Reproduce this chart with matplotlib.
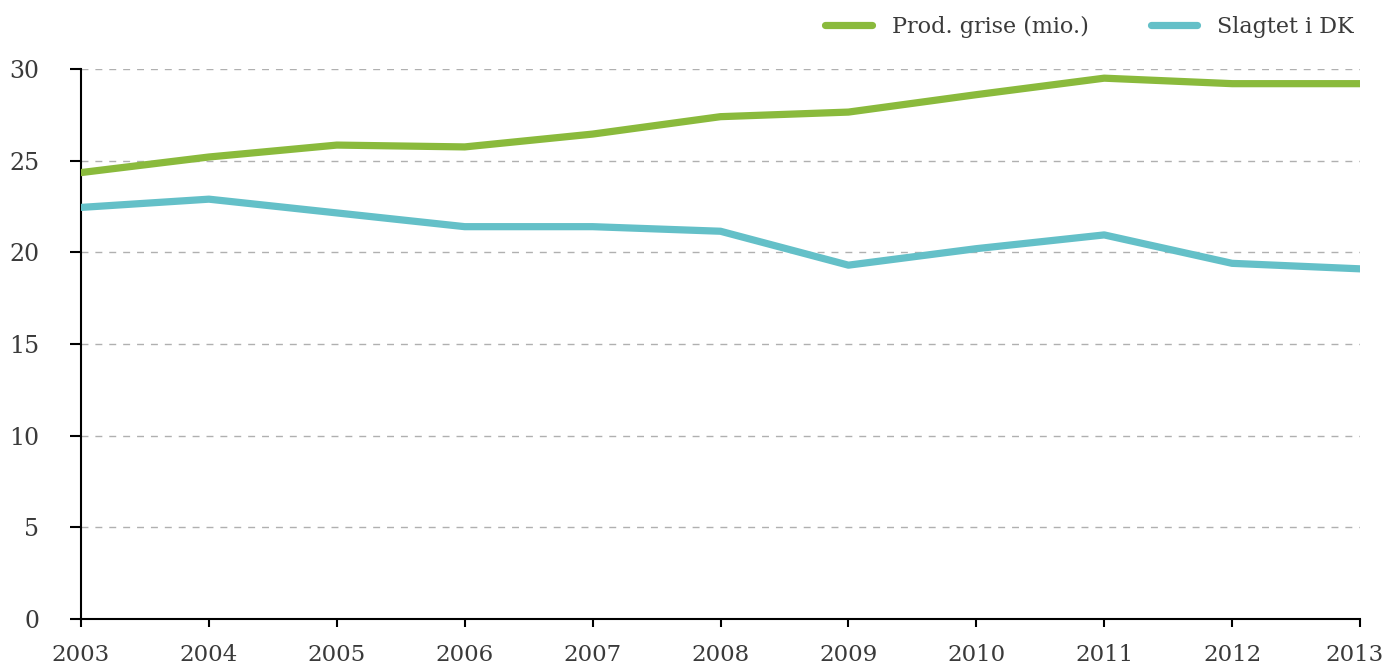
import matplotlib
matplotlib.use('Agg')
import matplotlib.pyplot as plt
import matplotlib.transforms as mtransforms

matplotlib.rcParams['font.family'] = ['DejaVu Serif']

years = [2003, 2004, 2005, 2006, 2007, 2008, 2009, 2010, 2011, 2012, 2013]
prod_grise = [24.35, 25.2, 25.85, 25.75, 26.45, 27.4, 27.65, 28.6, 29.5, 29.2, 29.2]
slagtet_dk = [22.45, 22.9, 22.15, 21.4, 21.4, 21.15, 19.3, 20.2, 20.95, 19.4, 19.1]

green = '#8aba3c'
blue = '#64c0c8'
text_col = '#3a3a3a'

fig = plt.figure(figsize=(13.87, 6.65), dpi=100)
ax = fig.add_axes([81 / 1387, 46 / 665, (1360 - 81) / 1387, (619 - 69) / 665])

ax.plot(years, prod_grise, color=green, lw=5.2, solid_capstyle='round', label='Prod. grise (mio.)', zorder=3)
ax.plot(years, slagtet_dk, color=blue, lw=5.2, solid_capstyle='round', label='Slagtet i DK', zorder=3)

ax.set_xlim(2003, 2013)
ax.set_ylim(0, 30)
ax.set_xticks(years)
ax.set_yticks(range(0, 31, 5))

ax.yaxis.grid(True, color='#b0b0b0', linestyle=(0, (5, 5)), lw=1)
ax.set_axisbelow(True)

for s in ['top', 'right']:
    ax.spines[s].set_visible(False)
for s in ['left', 'bottom']:
    ax.spines[s].set_linewidth(1.5)
    ax.spines[s].set_color('black')

ax.tick_params(axis='y', length=8, width=1.5, pad=22, labelsize=17, labelcolor=text_col)
ax.tick_params(axis='x', length=6, width=1.5, pad=12, labelsize=16.5, labelcolor=text_col)

# nudge the last year label so it stays inside the figure
last = ax.get_xticklabels()[-1]
last.set_transform(last.get_transform() + mtransforms.ScaledTranslation(-5 / 100, 0, fig.dpi_scale_trans))

fig.legend(loc='center right', bbox_to_anchor=(1354 / 1387, 1 - 27 / 665), ncol=2, frameon=False,
           fontsize=16, handlelength=2.1, handletextpad=0.9, columnspacing=2.8,
           borderpad=0, borderaxespad=0, labelcolor=text_col)

fig.savefig('out.png', dpi=100)
